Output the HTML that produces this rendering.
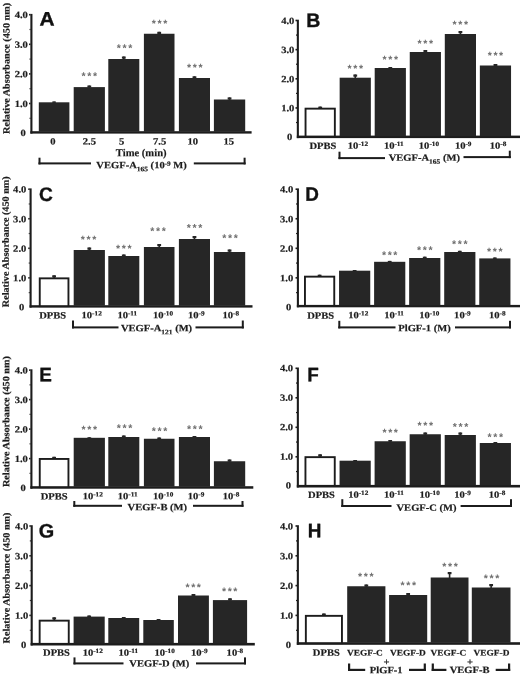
<!DOCTYPE html>
<html><head><meta charset="utf-8"><title>Figure</title>
<style>
html,body{margin:0;padding:0;background:#fff}
svg{display:block}
.s{font-family:"Liberation Serif",serif;font-weight:bold;fill:#1c1c1c;stroke:#1c1c1c;stroke-width:2px}
.st{font-family:"Liberation Sans",sans-serif;font-weight:bold;font-size:10.5px;fill:#6e6e6e;text-anchor:middle;letter-spacing:1.65px}
.L{font-family:"Liberation Sans",sans-serif;font-weight:bold;font-size:19.5px;fill:#111;stroke:#111;stroke-width:0.35px}
.k{fill:#1c1c1c}
.d{fill:#262626}
</style>
</head><body>
<svg width="520" height="675" viewBox="0 0 520 675">
<rect width="520" height="675" fill="#fff"/>
<rect x="30.35" y="13.9" width="2.1" height="119.7" class="k"/>
<rect x="30.35" y="131.2" width="221.25" height="2.4" class="k"/>
<rect x="29.05" y="13.9" width="1.5" height="1.6" class="k"/>
<rect x="29.55" y="28.9" width="1" height="1.2" class="k"/>
<rect x="29.05" y="43.5" width="1.5" height="1.6" class="k"/>
<rect x="29.55" y="58.5" width="1" height="1.2" class="k"/>
<rect x="29.05" y="73.1" width="1.5" height="1.6" class="k"/>
<rect x="29.55" y="88.1" width="1" height="1.2" class="k"/>
<rect x="29.05" y="102.7" width="1.5" height="1.6" class="k"/>
<rect x="29.55" y="117.7" width="1" height="1.2" class="k"/>
<text transform="translate(27.9,18.1) rotate(0.05) scale(0.11,0.1)" font-size="96" text-anchor="end" class="s">4.0</text>
<text transform="translate(27.9,47.7) rotate(0.05) scale(0.11,0.1)" font-size="96" text-anchor="end" class="s">3.0</text>
<text transform="translate(27.9,77.3) rotate(0.05) scale(0.11,0.1)" font-size="96" text-anchor="end" class="s">2.0</text>
<text transform="translate(27.9,106.9) rotate(0.05) scale(0.11,0.1)" font-size="96" text-anchor="end" class="s">1.0</text>
<text transform="translate(25.9,135.9) rotate(0.05) scale(0.11,0.1)" font-size="96" text-anchor="end" class="s">0</text>
<rect x="53.3" y="101.5" width="1.6" height="1.3" class="d"/>
<rect x="52.2" y="101.5" width="3.8" height="1.3" class="d"/>
<rect x="38.8" y="102.3" width="30.6" height="29.4" class="d"/>
<rect x="88.5" y="85.5" width="1.6" height="2.1" class="d"/>
<rect x="87.4" y="85.5" width="3.8" height="2.1" class="d"/>
<rect x="73.7" y="87.1" width="31.2" height="44.6" class="d"/>
<rect x="123" y="56.5" width="1.6" height="3" class="d"/>
<rect x="121.9" y="56.5" width="3.8" height="2.2" class="d"/>
<rect x="108.3" y="59" width="31" height="72.7" class="d"/>
<rect x="158.4" y="31.8" width="1.6" height="2.45" class="d"/>
<rect x="157.3" y="31.8" width="3.8" height="2.2" class="d"/>
<rect x="143.9" y="33.75" width="30.6" height="97.95" class="d"/>
<rect x="193.65" y="76.3" width="1.6" height="2.2" class="d"/>
<rect x="192.55" y="76.3" width="3.8" height="2.2" class="d"/>
<rect x="178.9" y="78" width="31.1" height="53.7" class="d"/>
<rect x="228.75" y="97.4" width="1.6" height="2.6" class="d"/>
<rect x="227.65" y="97.4" width="3.8" height="2.2" class="d"/>
<rect x="213.9" y="99.5" width="31.3" height="32.2" class="d"/>
<text transform="translate(90.16,79.6) rotate(0.05)" class="st">***</text>
<text transform="translate(125.32,51.6) rotate(0.05)" class="st">***</text>
<text transform="translate(160.48,27.1) rotate(0.05)" class="st">***</text>
<text transform="translate(195.64,71.1) rotate(0.05)" class="st">***</text>
<text transform="translate(39.4,25.5) rotate(0.05) scale(1.07,1)" class="L">A</text>
<text transform="translate(9.5,68.4) rotate(-89.95) scale(0.1062,0.1)" font-size="96" text-anchor="middle" class="s">Relative Absorbance (450 nm)</text>
<text transform="translate(52.9,144.5) rotate(0.05) scale(0.11,0.1)" font-size="96" text-anchor="middle" class="s">0</text>
<text transform="translate(89.36,144.5) rotate(0.05) scale(0.11,0.1)" font-size="96" text-anchor="middle" class="s">2.5</text>
<text transform="translate(121.72,144.5) rotate(0.05) scale(0.11,0.1)" font-size="96" text-anchor="middle" class="s">5</text>
<text transform="translate(159.68,144.5) rotate(0.05) scale(0.11,0.1)" font-size="96" text-anchor="middle" class="s">7.5</text>
<text transform="translate(192.64,144.5) rotate(0.05) scale(0.11,0.1)" font-size="96" text-anchor="middle" class="s">10</text>
<text transform="translate(228.7,144.5) rotate(0.05) scale(0.11,0.1)" font-size="96" text-anchor="middle" class="s">15</text>
<text transform="translate(141.2,156.2) rotate(0.05) scale(0.1,0.1)" font-size="106" text-anchor="middle" class="s">Time (min)</text>
<text transform="translate(141.6,168.3) rotate(0.05) scale(0.11,0.1)" font-size="96" text-anchor="middle" class="s">VEGF-A<tspan dy="30" font-size="68">165</tspan><tspan dy="-30"> (10<tspan dy="-27" font-size="66">-9</tspan><tspan dy="27"> M)</tspan></tspan></text>
<rect x="38.5" y="157.7" width="2" height="6.7" class="k"/>
<rect x="243.6" y="157.7" width="2" height="6.7" class="k"/>
<rect x="38.5" y="162.4" width="52.5" height="2" class="k"/>
<rect x="193.8" y="162.4" width="51.8" height="2" class="k"/>
<rect x="296.8" y="19.7" width="2.1" height="118.4" class="k"/>
<rect x="296.8" y="135.6" width="223.2" height="2.5" class="k"/>
<rect x="295.5" y="19.7" width="1.5" height="1.6" class="k"/>
<rect x="296" y="34.48" width="1" height="1.2" class="k"/>
<rect x="295.5" y="48.85" width="1.5" height="1.6" class="k"/>
<rect x="296" y="63.62" width="1" height="1.2" class="k"/>
<rect x="295.5" y="78" width="1.5" height="1.6" class="k"/>
<rect x="296" y="92.78" width="1" height="1.2" class="k"/>
<rect x="295.5" y="107.15" width="1.5" height="1.6" class="k"/>
<rect x="296" y="121.92" width="1" height="1.2" class="k"/>
<text transform="translate(294.35,23.9) rotate(0.05) scale(0.11,0.1)" font-size="96" text-anchor="end" class="s">4.0</text>
<text transform="translate(294.35,53.05) rotate(0.05) scale(0.11,0.1)" font-size="96" text-anchor="end" class="s">3.0</text>
<text transform="translate(294.35,82.2) rotate(0.05) scale(0.11,0.1)" font-size="96" text-anchor="end" class="s">2.0</text>
<text transform="translate(294.35,111.35) rotate(0.05) scale(0.11,0.1)" font-size="96" text-anchor="end" class="s">1.0</text>
<text transform="translate(292.35,139.9) rotate(0.05) scale(0.11,0.1)" font-size="96" text-anchor="end" class="s">0</text>
<rect x="319.4" y="106.6" width="1.6" height="1.6" class="d"/>
<rect x="318.3" y="106.6" width="3.8" height="1.6" class="d"/>
<rect x="305.55" y="108.65" width="29.3" height="27.9" fill="#fff" stroke="#1c1c1c" stroke-width="1.9"/>
<rect x="354.45" y="74.5" width="1.6" height="3.7" class="d"/>
<rect x="353.35" y="74.5" width="3.8" height="2.2" class="d"/>
<rect x="339.65" y="77.7" width="31.2" height="58.4" class="d"/>
<rect x="389.5" y="67" width="1.6" height="1.5" class="d"/>
<rect x="388.4" y="67" width="3.8" height="1.5" class="d"/>
<rect x="374.7" y="68" width="31.2" height="68.1" class="d"/>
<rect x="424.55" y="50" width="1.6" height="2.5" class="d"/>
<rect x="423.45" y="50" width="3.8" height="2.2" class="d"/>
<rect x="409.75" y="52" width="31.2" height="84.1" class="d"/>
<rect x="459.6" y="31" width="1.6" height="3.5" class="d"/>
<rect x="458.5" y="31" width="3.8" height="2.2" class="d"/>
<rect x="444.8" y="34" width="31.2" height="102.1" class="d"/>
<rect x="494.65" y="64" width="1.6" height="2" class="d"/>
<rect x="493.55" y="64" width="3.8" height="2" class="d"/>
<rect x="479.85" y="65.5" width="31.2" height="70.6" class="d"/>
<text transform="translate(356.05,72.1) rotate(0.05)" class="st">***</text>
<text transform="translate(391.1,63.1) rotate(0.05)" class="st">***</text>
<text transform="translate(426.15,47.1) rotate(0.05)" class="st">***</text>
<text transform="translate(461.2,28.1) rotate(0.05)" class="st">***</text>
<text transform="translate(496.25,59.1) rotate(0.05)" class="st">***</text>
<text transform="translate(306.2,26.9) rotate(0.05) scale(1.0,1)" class="L">B</text>
<text transform="translate(322.9,148.9) rotate(0.05) scale(0.11,0.1)" font-size="96" text-anchor="middle" class="s">DPBS</text>
<text transform="translate(357.95,148.8) rotate(0.05) scale(0.11,0.1)" font-size="96" text-anchor="middle" class="s">10<tspan dy="-27" font-size="66">-12</tspan></text>
<text transform="translate(393.8,148.8) rotate(0.05) scale(0.11,0.1)" font-size="96" text-anchor="middle" class="s">10<tspan dy="-27" font-size="66">-11</tspan></text>
<text transform="translate(428.95,148.8) rotate(0.05) scale(0.11,0.1)" font-size="96" text-anchor="middle" class="s">10<tspan dy="-27" font-size="66">-10</tspan></text>
<text transform="translate(463.2,148.8) rotate(0.05) scale(0.11,0.1)" font-size="96" text-anchor="middle" class="s">10<tspan dy="-27" font-size="66">-9</tspan></text>
<text transform="translate(498.05,148.8) rotate(0.05) scale(0.11,0.1)" font-size="96" text-anchor="middle" class="s">10<tspan dy="-27" font-size="66">-8</tspan></text>
<text transform="translate(424.3,160.8) rotate(0.05) scale(0.11,0.1)" font-size="96" text-anchor="middle" class="s">VEGF-A<tspan dy="30" font-size="68">165</tspan><tspan dy="-30"> (M)</tspan></text>
<rect x="338.5" y="151.7" width="2" height="7.4" class="k"/>
<rect x="508.8" y="150.7" width="2" height="7.4" class="k"/>
<rect x="338.5" y="157.1" width="46.5" height="2" class="k"/>
<rect x="463.5" y="156.1" width="47.3" height="2" class="k"/>
<rect x="29.55" y="188.4" width="2.1" height="119.2" class="k"/>
<rect x="29.55" y="305.2" width="222.95" height="2.4" class="k"/>
<rect x="28.25" y="188.4" width="1.5" height="1.6" class="k"/>
<rect x="28.75" y="203.38" width="1" height="1.2" class="k"/>
<rect x="28.25" y="217.95" width="1.5" height="1.6" class="k"/>
<rect x="28.75" y="232.92" width="1" height="1.2" class="k"/>
<rect x="28.25" y="247.5" width="1.5" height="1.6" class="k"/>
<rect x="28.75" y="262.47" width="1" height="1.2" class="k"/>
<rect x="28.25" y="277.05" width="1.5" height="1.6" class="k"/>
<rect x="28.75" y="292.02" width="1" height="1.2" class="k"/>
<text transform="translate(26.3,192.6) rotate(0.05) scale(0.11,0.1)" font-size="96" text-anchor="end" class="s">4.0</text>
<text transform="translate(26.3,222.15) rotate(0.05) scale(0.11,0.1)" font-size="96" text-anchor="end" class="s">3.0</text>
<text transform="translate(26.3,251.7) rotate(0.05) scale(0.11,0.1)" font-size="96" text-anchor="end" class="s">2.0</text>
<text transform="translate(26.3,281.25) rotate(0.05) scale(0.11,0.1)" font-size="96" text-anchor="end" class="s">1.0</text>
<text transform="translate(24.3,310.2) rotate(0.05) scale(0.11,0.1)" font-size="96" text-anchor="end" class="s">0</text>
<rect x="53.3" y="275.3" width="1.6" height="2.6" class="d"/>
<rect x="52.2" y="275.3" width="3.8" height="2.2" class="d"/>
<rect x="39.75" y="278.35" width="28.7" height="27.8" fill="#fff" stroke="#1c1c1c" stroke-width="1.9"/>
<rect x="88.5" y="247.5" width="1.6" height="3" class="d"/>
<rect x="87.4" y="247.5" width="3.8" height="2.2" class="d"/>
<rect x="73.7" y="250" width="31.2" height="55.7" class="d"/>
<rect x="123" y="254.5" width="1.6" height="2" class="d"/>
<rect x="121.9" y="254.5" width="3.8" height="2" class="d"/>
<rect x="108.3" y="256" width="31" height="49.7" class="d"/>
<rect x="158.4" y="244" width="1.6" height="3.5" class="d"/>
<rect x="157.3" y="244" width="3.8" height="2.2" class="d"/>
<rect x="143.9" y="247" width="30.6" height="58.7" class="d"/>
<rect x="193.65" y="236" width="1.6" height="3.5" class="d"/>
<rect x="192.55" y="236" width="3.8" height="2.2" class="d"/>
<rect x="178.9" y="239" width="31.1" height="66.7" class="d"/>
<rect x="228.75" y="249.5" width="1.6" height="3" class="d"/>
<rect x="227.65" y="249.5" width="3.8" height="2.2" class="d"/>
<rect x="213.9" y="252" width="31.3" height="53.7" class="d"/>
<text transform="translate(89.36,243.1) rotate(0.05)" class="st">***</text>
<text transform="translate(124.72,251.9) rotate(0.05)" class="st">***</text>
<text transform="translate(158.98,234.6) rotate(0.05)" class="st">***</text>
<text transform="translate(195.34,231.3) rotate(0.05)" class="st">***</text>
<text transform="translate(230.8,241.6) rotate(0.05)" class="st">***</text>
<text transform="translate(39,201) rotate(0.05) scale(0.98,1)" class="L">C</text>
<text transform="translate(8.7,241.75) rotate(-89.95) scale(0.1062,0.1)" font-size="96" text-anchor="middle" class="s">Relative Absorbance (450 nm)</text>
<text transform="translate(52.7,318.4) rotate(0.05) scale(0.11,0.1)" font-size="96" text-anchor="middle" class="s">DPBS</text>
<text transform="translate(91.66,318.3) rotate(0.05) scale(0.11,0.1)" font-size="96" text-anchor="middle" class="s">10<tspan dy="-27" font-size="66">-12</tspan></text>
<text transform="translate(127.32,318.3) rotate(0.05) scale(0.11,0.1)" font-size="96" text-anchor="middle" class="s">10<tspan dy="-27" font-size="66">-11</tspan></text>
<text transform="translate(162.98,318.3) rotate(0.05) scale(0.11,0.1)" font-size="96" text-anchor="middle" class="s">10<tspan dy="-27" font-size="66">-10</tspan></text>
<text transform="translate(196.34,318.3) rotate(0.05) scale(0.11,0.1)" font-size="96" text-anchor="middle" class="s">10<tspan dy="-27" font-size="66">-9</tspan></text>
<text transform="translate(230.8,318.3) rotate(0.05) scale(0.11,0.1)" font-size="96" text-anchor="middle" class="s">10<tspan dy="-27" font-size="66">-8</tspan></text>
<text transform="translate(156.5,331.2) rotate(0.05) scale(0.11,0.1)" font-size="96" text-anchor="middle" class="s">VEGF-A<tspan dy="30" font-size="68">121</tspan><tspan dy="-30"> (M)</tspan></text>
<rect x="72" y="320.5" width="2" height="7.9" class="k"/>
<rect x="241.8" y="320.5" width="2" height="7.9" class="k"/>
<rect x="72" y="326.4" width="46.5" height="2" class="k"/>
<rect x="195.5" y="326.4" width="48.3" height="2" class="k"/>
<rect x="296.85" y="188.4" width="2.1" height="118.9" class="k"/>
<rect x="296.85" y="304.9" width="223.15" height="2.4" class="k"/>
<rect x="295.55" y="188.4" width="1.5" height="1.6" class="k"/>
<rect x="296.05" y="203.38" width="1" height="1.2" class="k"/>
<rect x="295.55" y="217.95" width="1.5" height="1.6" class="k"/>
<rect x="296.05" y="232.92" width="1" height="1.2" class="k"/>
<rect x="295.55" y="247.5" width="1.5" height="1.6" class="k"/>
<rect x="296.05" y="262.47" width="1" height="1.2" class="k"/>
<rect x="295.55" y="277.05" width="1.5" height="1.6" class="k"/>
<rect x="296.05" y="292.02" width="1" height="1.2" class="k"/>
<text transform="translate(293.2,192.6) rotate(0.05) scale(0.11,0.1)" font-size="96" text-anchor="end" class="s">4.0</text>
<text transform="translate(293.2,222.15) rotate(0.05) scale(0.11,0.1)" font-size="96" text-anchor="end" class="s">3.0</text>
<text transform="translate(293.2,251.7) rotate(0.05) scale(0.11,0.1)" font-size="96" text-anchor="end" class="s">2.0</text>
<text transform="translate(293.2,281.25) rotate(0.05) scale(0.11,0.1)" font-size="96" text-anchor="end" class="s">1.0</text>
<text transform="translate(291.2,310.2) rotate(0.05) scale(0.11,0.1)" font-size="96" text-anchor="end" class="s">0</text>
<rect x="318.8" y="274.7" width="1.6" height="1.5" class="d"/>
<rect x="317.7" y="274.7" width="3.8" height="1.5" class="d"/>
<rect x="304.95" y="276.65" width="29.3" height="29.2" fill="#fff" stroke="#1c1c1c" stroke-width="1.9"/>
<rect x="353.85" y="270" width="1.6" height="1.2" class="d"/>
<rect x="352.75" y="270" width="3.8" height="1.2" class="d"/>
<rect x="339.05" y="270.7" width="31.2" height="34.7" class="d"/>
<rect x="388.9" y="260.9" width="1.6" height="1.4" class="d"/>
<rect x="387.8" y="260.9" width="3.8" height="1.4" class="d"/>
<rect x="374.1" y="261.8" width="31.2" height="43.6" class="d"/>
<rect x="423.95" y="256.7" width="1.6" height="1.8" class="d"/>
<rect x="422.85" y="256.7" width="3.8" height="1.8" class="d"/>
<rect x="409.15" y="258" width="31.2" height="47.4" class="d"/>
<rect x="459" y="250.8" width="1.6" height="1.7" class="d"/>
<rect x="457.9" y="250.8" width="3.8" height="1.7" class="d"/>
<rect x="444.2" y="252" width="31.2" height="53.4" class="d"/>
<rect x="494.05" y="257.5" width="1.6" height="1.4" class="d"/>
<rect x="492.95" y="257.5" width="3.8" height="1.4" class="d"/>
<rect x="479.25" y="258.4" width="31.2" height="47" class="d"/>
<text transform="translate(390.5,258.6) rotate(0.05)" class="st">***</text>
<text transform="translate(425.55,253.6) rotate(0.05)" class="st">***</text>
<text transform="translate(460.6,247.6) rotate(0.05)" class="st">***</text>
<text transform="translate(495.65,255.1) rotate(0.05)" class="st">***</text>
<text transform="translate(305.3,200.8) rotate(0.05) scale(0.97,1)" class="L">D</text>
<text transform="translate(320.7,318.7) rotate(0.05) scale(0.11,0.1)" font-size="96" text-anchor="middle" class="s">DPBS</text>
<text transform="translate(358.25,318.3) rotate(0.05) scale(0.11,0.1)" font-size="96" text-anchor="middle" class="s">10<tspan dy="-27" font-size="66">-12</tspan></text>
<text transform="translate(394.1,318.3) rotate(0.05) scale(0.11,0.1)" font-size="96" text-anchor="middle" class="s">10<tspan dy="-27" font-size="66">-11</tspan></text>
<text transform="translate(429.35,318.3) rotate(0.05) scale(0.11,0.1)" font-size="96" text-anchor="middle" class="s">10<tspan dy="-27" font-size="66">-10</tspan></text>
<text transform="translate(462.4,318.3) rotate(0.05) scale(0.11,0.1)" font-size="96" text-anchor="middle" class="s">10<tspan dy="-27" font-size="66">-9</tspan></text>
<text transform="translate(497.25,318.3) rotate(0.05) scale(0.11,0.1)" font-size="96" text-anchor="middle" class="s">10<tspan dy="-27" font-size="66">-8</tspan></text>
<text transform="translate(424.5,331.3) rotate(0.05) scale(0.11,0.1)" font-size="96" text-anchor="middle" class="s">PlGF-1 (M)</text>
<rect x="338.3" y="320.8" width="2" height="7.6" class="k"/>
<rect x="509" y="320.8" width="2" height="7.6" class="k"/>
<rect x="338.3" y="326.4" width="57.2" height="2" class="k"/>
<rect x="455" y="326.4" width="56" height="2" class="k"/>
<rect x="30.35" y="369.3" width="2.1" height="119.4" class="k"/>
<rect x="30.35" y="486.2" width="222.95" height="2.5" class="k"/>
<rect x="29.05" y="369.3" width="1.5" height="1.6" class="k"/>
<rect x="29.55" y="384.25" width="1" height="1.2" class="k"/>
<rect x="29.05" y="398.8" width="1.5" height="1.6" class="k"/>
<rect x="29.55" y="413.75" width="1" height="1.2" class="k"/>
<rect x="29.05" y="428.3" width="1.5" height="1.6" class="k"/>
<rect x="29.55" y="443.25" width="1" height="1.2" class="k"/>
<rect x="29.05" y="457.8" width="1.5" height="1.6" class="k"/>
<rect x="29.55" y="472.75" width="1" height="1.2" class="k"/>
<text transform="translate(27.9,373.5) rotate(0.05) scale(0.11,0.1)" font-size="96" text-anchor="end" class="s">4.0</text>
<text transform="translate(27.9,403) rotate(0.05) scale(0.11,0.1)" font-size="96" text-anchor="end" class="s">3.0</text>
<text transform="translate(27.9,432.5) rotate(0.05) scale(0.11,0.1)" font-size="96" text-anchor="end" class="s">2.0</text>
<text transform="translate(27.9,462) rotate(0.05) scale(0.11,0.1)" font-size="96" text-anchor="end" class="s">1.0</text>
<text transform="translate(25.9,490.9) rotate(0.05) scale(0.11,0.1)" font-size="96" text-anchor="end" class="s">0</text>
<rect x="53.3" y="456.8" width="1.6" height="1.7" class="d"/>
<rect x="52.2" y="456.8" width="3.8" height="1.7" class="d"/>
<rect x="39.75" y="458.95" width="28.7" height="28.2" fill="#fff" stroke="#1c1c1c" stroke-width="1.9"/>
<rect x="88.5" y="437.3" width="1.6" height="1" class="d"/>
<rect x="87.4" y="437.3" width="3.8" height="1" class="d"/>
<rect x="73.7" y="437.8" width="31.2" height="48.9" class="d"/>
<rect x="123" y="435.5" width="1.6" height="2" class="d"/>
<rect x="121.9" y="435.5" width="3.8" height="2" class="d"/>
<rect x="108.3" y="437" width="31" height="49.7" class="d"/>
<rect x="158.4" y="437.5" width="1.6" height="1.75" class="d"/>
<rect x="157.3" y="437.5" width="3.8" height="1.75" class="d"/>
<rect x="143.9" y="438.75" width="30.6" height="47.95" class="d"/>
<rect x="193.65" y="436" width="1.6" height="1.5" class="d"/>
<rect x="192.55" y="436" width="3.8" height="1.5" class="d"/>
<rect x="178.9" y="437" width="31.1" height="49.7" class="d"/>
<rect x="228.75" y="459.5" width="1.6" height="2.25" class="d"/>
<rect x="227.65" y="459.5" width="3.8" height="2.2" class="d"/>
<rect x="213.9" y="461.25" width="31.3" height="25.45" class="d"/>
<text transform="translate(90.16,433.1) rotate(0.05)" class="st">***</text>
<text transform="translate(125.32,431.6) rotate(0.05)" class="st">***</text>
<text transform="translate(160.48,434.6) rotate(0.05)" class="st">***</text>
<text transform="translate(195.64,432.6) rotate(0.05)" class="st">***</text>
<text transform="translate(39.2,381.3) rotate(0.05) scale(0.97,1)" class="L">E</text>
<text transform="translate(9.2,421.6) rotate(-89.95) scale(0.1062,0.1)" font-size="96" text-anchor="middle" class="s">Relative Absorbance (450 nm)</text>
<text transform="translate(54.2,499.4) rotate(0.05) scale(0.11,0.1)" font-size="96" text-anchor="middle" class="s">DPBS</text>
<text transform="translate(92.76,499.3) rotate(0.05) scale(0.11,0.1)" font-size="96" text-anchor="middle" class="s">10<tspan dy="-27" font-size="66">-12</tspan></text>
<text transform="translate(127.72,499.3) rotate(0.05) scale(0.11,0.1)" font-size="96" text-anchor="middle" class="s">10<tspan dy="-27" font-size="66">-11</tspan></text>
<text transform="translate(163.18,499.3) rotate(0.05) scale(0.11,0.1)" font-size="96" text-anchor="middle" class="s">10<tspan dy="-27" font-size="66">-10</tspan></text>
<text transform="translate(196.04,499.3) rotate(0.05) scale(0.11,0.1)" font-size="96" text-anchor="middle" class="s">10<tspan dy="-27" font-size="66">-9</tspan></text>
<text transform="translate(231,499.3) rotate(0.05) scale(0.11,0.1)" font-size="96" text-anchor="middle" class="s">10<tspan dy="-27" font-size="66">-8</tspan></text>
<text transform="translate(157.3,510.3) rotate(0.05) scale(0.11,0.1)" font-size="96" text-anchor="middle" class="s">VEGF-B (M)</text>
<rect x="73.3" y="501" width="2" height="5.8" class="k"/>
<rect x="241.5" y="501" width="2" height="5.8" class="k"/>
<rect x="73.3" y="504.8" width="48.7" height="2" class="k"/>
<rect x="193" y="504.8" width="50.5" height="2" class="k"/>
<rect x="296.8" y="367.5" width="2.1" height="120" class="k"/>
<rect x="296.8" y="484.9" width="223.2" height="2.6" class="k"/>
<rect x="295.5" y="367.5" width="1.5" height="1.6" class="k"/>
<rect x="296" y="382.45" width="1" height="1.2" class="k"/>
<rect x="295.5" y="397" width="1.5" height="1.6" class="k"/>
<rect x="296" y="411.95" width="1" height="1.2" class="k"/>
<rect x="295.5" y="426.5" width="1.5" height="1.6" class="k"/>
<rect x="296" y="441.45" width="1" height="1.2" class="k"/>
<rect x="295.5" y="456" width="1.5" height="1.6" class="k"/>
<rect x="296" y="470.95" width="1" height="1.2" class="k"/>
<text transform="translate(293.15,371.2) rotate(0.05) scale(0.11,0.1)" font-size="96" text-anchor="end" class="s">4.0</text>
<text transform="translate(293.15,400.7) rotate(0.05) scale(0.11,0.1)" font-size="96" text-anchor="end" class="s">3.0</text>
<text transform="translate(293.15,430.2) rotate(0.05) scale(0.11,0.1)" font-size="96" text-anchor="end" class="s">2.0</text>
<text transform="translate(293.15,459.7) rotate(0.05) scale(0.11,0.1)" font-size="96" text-anchor="end" class="s">1.0</text>
<text transform="translate(291.15,488.6) rotate(0.05) scale(0.11,0.1)" font-size="96" text-anchor="end" class="s">0</text>
<rect x="319.3" y="454.3" width="1.6" height="2.4" class="d"/>
<rect x="318.2" y="454.3" width="3.8" height="2.2" class="d"/>
<rect x="305.45" y="457.15" width="29.3" height="28.7" fill="#fff" stroke="#1c1c1c" stroke-width="1.9"/>
<rect x="354.35" y="460" width="1.6" height="1.2" class="d"/>
<rect x="353.25" y="460" width="3.8" height="1.2" class="d"/>
<rect x="339.55" y="460.7" width="31.2" height="24.7" class="d"/>
<rect x="389.4" y="440" width="1.6" height="1.75" class="d"/>
<rect x="388.3" y="440" width="3.8" height="1.75" class="d"/>
<rect x="374.6" y="441.25" width="31.2" height="44.15" class="d"/>
<rect x="424.45" y="432.5" width="1.6" height="2.25" class="d"/>
<rect x="423.35" y="432.5" width="3.8" height="2.2" class="d"/>
<rect x="409.65" y="434.25" width="31.2" height="51.15" class="d"/>
<rect x="459.5" y="432.5" width="1.6" height="3" class="d"/>
<rect x="458.4" y="432.5" width="3.8" height="2.2" class="d"/>
<rect x="444.7" y="435" width="31.2" height="50.4" class="d"/>
<rect x="494.55" y="442" width="1.6" height="1.5" class="d"/>
<rect x="493.45" y="442" width="3.8" height="1.5" class="d"/>
<rect x="479.75" y="443" width="31.2" height="42.4" class="d"/>
<text transform="translate(391,436.1) rotate(0.05)" class="st">***</text>
<text transform="translate(426.05,429.1) rotate(0.05)" class="st">***</text>
<text transform="translate(461.4,430.2) rotate(0.05)" class="st">***</text>
<text transform="translate(496.15,440.6) rotate(0.05)" class="st">***</text>
<text transform="translate(307.2,381.3) rotate(0.05) scale(0.97,1)" class="L">F</text>
<text transform="translate(321.5,498) rotate(0.05) scale(0.11,0.1)" font-size="96" text-anchor="middle" class="s">DPBS</text>
<text transform="translate(358.25,497.8) rotate(0.05) scale(0.11,0.1)" font-size="96" text-anchor="middle" class="s">10<tspan dy="-27" font-size="66">-12</tspan></text>
<text transform="translate(393.9,497.8) rotate(0.05) scale(0.11,0.1)" font-size="96" text-anchor="middle" class="s">10<tspan dy="-27" font-size="66">-11</tspan></text>
<text transform="translate(429.65,497.8) rotate(0.05) scale(0.11,0.1)" font-size="96" text-anchor="middle" class="s">10<tspan dy="-27" font-size="66">-10</tspan></text>
<text transform="translate(462.6,497.8) rotate(0.05) scale(0.11,0.1)" font-size="96" text-anchor="middle" class="s">10<tspan dy="-27" font-size="66">-9</tspan></text>
<text transform="translate(497.05,497.8) rotate(0.05) scale(0.11,0.1)" font-size="96" text-anchor="middle" class="s">10<tspan dy="-27" font-size="66">-8</tspan></text>
<text transform="translate(426.5,510.8) rotate(0.05) scale(0.11,0.1)" font-size="96" text-anchor="middle" class="s">VEGF-C (M)</text>
<rect x="341.3" y="499.2" width="2" height="7.8" class="k"/>
<rect x="510" y="499.2" width="2" height="7.8" class="k"/>
<rect x="341.3" y="505" width="50.2" height="2" class="k"/>
<rect x="460.6" y="505" width="51.4" height="2" class="k"/>
<rect x="30.65" y="525.2" width="2.1" height="120.3" class="k"/>
<rect x="30.65" y="642.9" width="224.15" height="2.6" class="k"/>
<rect x="29.35" y="525.2" width="1.5" height="1.6" class="k"/>
<rect x="29.85" y="540.3" width="1" height="1.2" class="k"/>
<rect x="29.35" y="555" width="1.5" height="1.6" class="k"/>
<rect x="29.85" y="570.1" width="1" height="1.2" class="k"/>
<rect x="29.35" y="584.8" width="1.5" height="1.6" class="k"/>
<rect x="29.85" y="599.9" width="1" height="1.2" class="k"/>
<rect x="29.35" y="614.6" width="1.5" height="1.6" class="k"/>
<rect x="29.85" y="629.7" width="1" height="1.2" class="k"/>
<text transform="translate(28.2,529.4) rotate(0.05) scale(0.11,0.1)" font-size="96" text-anchor="end" class="s">4.0</text>
<text transform="translate(28.2,559.2) rotate(0.05) scale(0.11,0.1)" font-size="96" text-anchor="end" class="s">3.0</text>
<text transform="translate(28.2,589) rotate(0.05) scale(0.11,0.1)" font-size="96" text-anchor="end" class="s">2.0</text>
<text transform="translate(28.2,618.8) rotate(0.05) scale(0.11,0.1)" font-size="96" text-anchor="end" class="s">1.0</text>
<text transform="translate(26.2,648) rotate(0.05) scale(0.11,0.1)" font-size="96" text-anchor="end" class="s">0</text>
<rect x="53.4" y="617.3" width="1.6" height="2.9" class="d"/>
<rect x="52.3" y="617.3" width="3.8" height="2.2" class="d"/>
<rect x="39.65" y="620.65" width="29.1" height="23.2" fill="#fff" stroke="#1c1c1c" stroke-width="1.9"/>
<rect x="88.35" y="615.5" width="1.6" height="1.6" class="d"/>
<rect x="87.25" y="615.5" width="3.8" height="1.6" class="d"/>
<rect x="73.6" y="616.6" width="31.1" height="26.8" class="d"/>
<rect x="122.95" y="617" width="1.6" height="1.5" class="d"/>
<rect x="121.85" y="617" width="3.8" height="1.5" class="d"/>
<rect x="108.3" y="618" width="30.9" height="25.4" class="d"/>
<rect x="157.75" y="619" width="1.6" height="1.5" class="d"/>
<rect x="156.65" y="619" width="3.8" height="1.5" class="d"/>
<rect x="143.3" y="620" width="30.5" height="23.4" class="d"/>
<rect x="192.65" y="594" width="1.6" height="2" class="d"/>
<rect x="191.55" y="594" width="3.8" height="2" class="d"/>
<rect x="178" y="595.5" width="30.9" height="47.9" class="d"/>
<rect x="229.2" y="598.3" width="1.6" height="2.3" class="d"/>
<rect x="228.1" y="598.3" width="3.8" height="2.2" class="d"/>
<rect x="212.9" y="600.1" width="34.2" height="43.3" class="d"/>
<text transform="translate(194,590.7) rotate(0.05)" class="st">***</text>
<text transform="translate(230.5,594.8) rotate(0.05)" class="st">***</text>
<text transform="translate(38.7,537.4) rotate(0.05) scale(1.02,1)" class="L">G</text>
<text transform="translate(9.5,578) rotate(-89.95) scale(0.1062,0.1)" font-size="96" text-anchor="middle" class="s">Relative Absorbance (450 nm)</text>
<text transform="translate(56.5,655.7) rotate(0.05) scale(0.11,0.1)" font-size="96" text-anchor="middle" class="s">DPBS</text>
<text transform="translate(92.76,655.7) rotate(0.05) scale(0.11,0.1)" font-size="96" text-anchor="middle" class="s">10<tspan dy="-27" font-size="66">-12</tspan></text>
<text transform="translate(128.32,655.7) rotate(0.05) scale(0.11,0.1)" font-size="96" text-anchor="middle" class="s">10<tspan dy="-27" font-size="66">-11</tspan></text>
<text transform="translate(164.68,655.7) rotate(0.05) scale(0.11,0.1)" font-size="96" text-anchor="middle" class="s">10<tspan dy="-27" font-size="66">-10</tspan></text>
<text transform="translate(199.24,655.7) rotate(0.05) scale(0.11,0.1)" font-size="96" text-anchor="middle" class="s">10<tspan dy="-27" font-size="66">-9</tspan></text>
<text transform="translate(234.9,655.7) rotate(0.05) scale(0.11,0.1)" font-size="96" text-anchor="middle" class="s">10<tspan dy="-27" font-size="66">-8</tspan></text>
<text transform="translate(159.3,666.5) rotate(0.05) scale(0.11,0.1)" font-size="96" text-anchor="middle" class="s">VEGF-D (M)</text>
<rect x="73.5" y="657.4" width="2" height="7" class="k"/>
<rect x="244" y="657.4" width="2" height="7" class="k"/>
<rect x="73.5" y="662.4" width="50" height="2" class="k"/>
<rect x="196" y="662.4" width="50" height="2" class="k"/>
<rect x="296.8" y="525.2" width="2.1" height="119.6" class="k"/>
<rect x="296.8" y="642.2" width="223.2" height="2.6" class="k"/>
<rect x="295.5" y="525.2" width="1.5" height="1.6" class="k"/>
<rect x="296" y="540.3" width="1" height="1.2" class="k"/>
<rect x="295.5" y="555" width="1.5" height="1.6" class="k"/>
<rect x="296" y="570.1" width="1" height="1.2" class="k"/>
<rect x="295.5" y="584.8" width="1.5" height="1.6" class="k"/>
<rect x="296" y="599.9" width="1" height="1.2" class="k"/>
<rect x="295.5" y="614.6" width="1.5" height="1.6" class="k"/>
<rect x="296" y="629.7" width="1" height="1.2" class="k"/>
<text transform="translate(293.15,529.4) rotate(0.05) scale(0.11,0.1)" font-size="96" text-anchor="end" class="s">4.0</text>
<text transform="translate(293.15,559.2) rotate(0.05) scale(0.11,0.1)" font-size="96" text-anchor="end" class="s">3.0</text>
<text transform="translate(293.15,589) rotate(0.05) scale(0.11,0.1)" font-size="96" text-anchor="end" class="s">2.0</text>
<text transform="translate(293.15,618.8) rotate(0.05) scale(0.11,0.1)" font-size="96" text-anchor="end" class="s">1.0</text>
<text transform="translate(291.15,648) rotate(0.05) scale(0.11,0.1)" font-size="96" text-anchor="end" class="s">0</text>
<rect x="323.1" y="613.5" width="1.6" height="1.9" class="d"/>
<rect x="322" y="613.5" width="3.8" height="1.9" class="d"/>
<rect x="305.85" y="615.85" width="36.1" height="27.3" fill="#fff" stroke="#1c1c1c" stroke-width="1.9"/>
<rect x="365.5" y="584.5" width="1.6" height="2.25" class="d"/>
<rect x="364.4" y="584.5" width="3.8" height="2.2" class="d"/>
<rect x="347.2" y="586.25" width="38.2" height="56.45" class="d"/>
<rect x="407.35" y="593" width="1.6" height="2.5" class="d"/>
<rect x="406.25" y="593" width="3.8" height="2.2" class="d"/>
<rect x="389.1" y="595" width="38.1" height="47.7" class="d"/>
<rect x="448.8" y="572" width="1.6" height="6" class="d"/>
<rect x="447.7" y="572" width="3.8" height="2.2" class="d"/>
<rect x="430.7" y="577.5" width="37.8" height="65.2" class="d"/>
<rect x="490.35" y="584" width="1.6" height="4" class="d"/>
<rect x="489.25" y="584" width="3.8" height="2.2" class="d"/>
<rect x="471.8" y="587.5" width="38.7" height="55.2" class="d"/>
<text transform="translate(366.7,580.1) rotate(0.05)" class="st">***</text>
<text transform="translate(409.05,588.7) rotate(0.05)" class="st">***</text>
<text transform="translate(450.8,569.9) rotate(0.05)" class="st">***</text>
<text transform="translate(492.3,581.7) rotate(0.05)" class="st">***</text>
<text transform="translate(307.8,537.2) rotate(0.05) scale(0.97,1)" class="L">H</text>
<text transform="translate(326.3,655.7) rotate(0.05) scale(0.11,0.1)" font-size="96" text-anchor="middle" class="s">DPBS</text>
<text transform="translate(364.9,655.6) rotate(0.05) scale(0.11,0.1)" font-size="85" text-anchor="middle" class="s">VEGF-C</text>
<text transform="translate(407.9,655.6) rotate(0.05) scale(0.11,0.1)" font-size="85" text-anchor="middle" class="s">VEGF-D</text>
<text transform="translate(448.4,655.6) rotate(0.05) scale(0.11,0.1)" font-size="85" text-anchor="middle" class="s">VEGF-C</text>
<text transform="translate(491.5,655.6) rotate(0.05) scale(0.11,0.1)" font-size="85" text-anchor="middle" class="s">VEGF-D</text>
<text transform="translate(386.6,665) rotate(0.05) scale(0.11,0.1)" font-size="96" text-anchor="middle" class="s">+</text>
<text transform="translate(470,665) rotate(0.05) scale(0.11,0.1)" font-size="96" text-anchor="middle" class="s">+</text>
<text transform="translate(386.2,673.3) rotate(0.05) scale(0.11,0.1)" font-size="96" text-anchor="middle" class="s">PlGF-1</text>
<text transform="translate(469.6,673) rotate(0.05) scale(0.11,0.1)" font-size="96" text-anchor="middle" class="s">VEGF-B</text>
<rect x="348" y="663.5" width="2.2" height="7.5" class="k"/>
<rect x="423.7" y="663.5" width="2.2" height="7.5" class="k"/>
<rect x="348" y="668.8" width="17.2" height="2.2" class="k"/>
<rect x="409" y="668.8" width="16.9" height="2.2" class="k"/>
<rect x="431.7" y="663.5" width="2.2" height="7.5" class="k"/>
<rect x="508" y="663.5" width="2.2" height="7.5" class="k"/>
<rect x="431.7" y="668.8" width="14.7" height="2.2" class="k"/>
<rect x="495.7" y="668.8" width="14.5" height="2.2" class="k"/>
</svg>
</body></html>
